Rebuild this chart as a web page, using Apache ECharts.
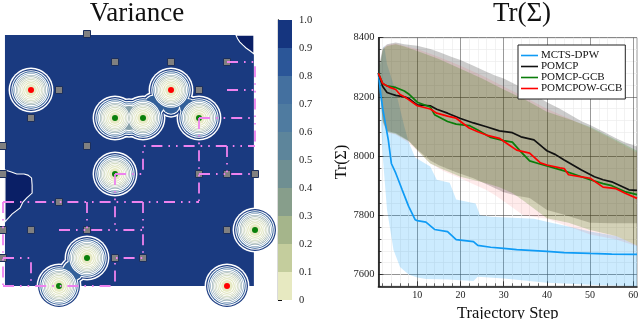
<!DOCTYPE html>
<html>
<head>
<meta charset="utf-8">
<style>html,body{margin:0;padding:0;background:#fff}#c{width:640px;height:319px}</style>
<script src="https://cdn.jsdelivr.net/npm/echarts@6/dist/echarts.min.js"></script>
</head>
<body>
<div id="c"></div>
<script>
// ---------- left map data (grid units) ----------
const fieldBounds = [0.07, 8.96, 0.04, 9];
const obstacles = [[3,0],[4,1],[6,1],[8,1],[2,2],[7,2],[1,3],[0,4],[3,4],[0,5],[7,5],[8,5],[9,5],[2,6],[0,7],[1,7],[3,7],[8,7],[0,8],[4,8],[5,8]];
const redGoals = [[1,2],[6,2],[8,9]];
const greenGoals = [[4,3],[5,3],[7,3],[4,5],[9,7],[3,8],[2,9]];
const saddleSpot = [4.5,3,19];
const neckSpots = [[5.4,2.55,13],[6.6,2.6,11],[6,2.55,11.5],[2.5,8.45,13]];
const darkPatchLeft = [[0.07,4.86],[0.3,4.93],[0.49,5.0],[0.75,5.0],[0.89,5.04],[1.02,5.14],[1.04,5.4],[1.04,5.68],[0.85,5.85],[0.71,6.0],[0.61,6.21],[0.32,6.43],[0.07,6.71]];
const darkPatchRight = [[8.32,0.04],[8.38,0.17],[8.46,0.29],[8.57,0.4],[8.68,0.5],[8.82,0.6],[8.96,0.71],[8.96,0.04]];
const pinkPaths = [
  [[4,5],[5,5],[5,4],[9,4]], [[8,1],[9,1],[9,4]], [[8,2],[9,2]], [[7,3],[9,3]],
  [[7,3],[7,6]], [[8,4],[8,5]], [[7,5],[9,5]], [[0,6],[7,6]], [[4,5],[4,7]],
  [[3,6],[3,7]], [[2,7],[5,7]], [[5,6],[5,8],[4,8],[4,9]], [[0,8],[1,8],[1,9]],
  [[0,9],[4,9]], [[0,6],[0,9]]
];
// ---------- colour bar ----------
const barTicks = [0,0.1,0.2,0.3,0.4,0.5,0.6,0.7,0.8,0.9,1];
const barColors = ['#e7e9c1','#c4cd9d','#a5b58b','#879e8b','#6f8f92','#5d859b','#4f7ba0','#44709f','#2b5698','#15357f'];
const ringRadii = [21.7,19.2,17.2,15.6,14.1,12.7,11.3,9.9,8.3,6.3];
const ringFills = ['#1b3c82','#33609a','#5f86a8','#86a0aa','#a3b6ae','#bcc9b4','#cdd6ba','#dadfbe','#e2e6c0','#e8eac4'];
const fieldColor = '#1a3a80', patchColor = '#0a1f66';
// ---------- right chart data ----------
const stepTicks = [10,20,30,40,50,60];
const stepMinor = [2,4,6,8,12,14,16,18,22,24,26,28,32,34,36,38,42,44,46,48,52,54,56,58];
const traceTicks = [7600,7800,8000,8200,8400];
const methodNames = ['MCTS-DPW','POMCP','POMCP-GCB','POMCPOW-GCB'];
const blueMean = [[1,8280],[1.5,8215],[2,8160],[3.3,8054],[4,7975],[5,7943],[6.5,7886],[8,7830],[9.5,7785],[10,7782],[12,7777],[14,7752],[17,7745],[19,7718],[23,7711],[24,7698],[27,7692],[30,7688],[33,7684],[40,7678],[44,7674],[50,7671],[55,7669],[60.85,7668]];
const blackMean = [[1,8280],[2,8235],[3,8215],[4,8210],[5,8205],[7,8200],[8,8195],[10,8173],[13,8170],[14.5,8158],[17,8145],[20,8127],[23,8112],[26,8099],[29,8085],[32,8079],[34,8065],[37,8055],[39,8030],[40,8018],[42,8005],[44,7987],[46,7970],[48,7953],[51,7930],[53,7920],[55,7913],[57,7900],[59,7886],[60.85,7884]];
const greenMean = [[1,8280],[2,8245],[3,8237],[5,8232],[7,8220],[8,8210],[10,8182],[13,8166],[14,8140],[17,8117],[19,8108],[22,8103],[24,8088],[27,8063],[30,8052],[32,8047],[34,8014],[36,7984],[38,7975],[40,7967],[44,7950],[47,7935],[50,7920],[53,7907],[55,7900],[58,7880],[60.85,7870]];
const redMean = [[1,8280],[2,8245],[3.5,8233],[5,8225],[6,8208],[7.5,8196],[10,8170],[13,8159],[14.5,8145],[17,8135],[19,8128],[22,8095],[24,8082],[26,8071],[29,8060],[31,8040],[33,8020],[36,8010],[38.5,7977],[40,7970],[43,7960],[44,7958],[45,7937],[48,7930],[50,7925],[53,7895],[56,7890],[58,7875],[60.85,7857]];
const blueUpper = [[1,8280],[2.3,8375],[3,8310],[4,8265],[5,8220],[6,8160],[7,8100],[8,8048],[9.5,7995],[13,7965],[14.5,7920],[17.5,7910],[19,7853],[23.5,7840],[24.5,7800],[27,7795],[37,7788],[40,7778],[45,7762],[50,7745],[56,7730],[60.85,7698]];
const blueLower = [[1,8280],[2,8000],[3,7818],[4.5,7683],[6,7625],[8,7600],[10,7590],[12,7585],[17,7583],[23,7578],[24,7592],[30,7586],[40,7572],[50,7565],[60.85,7560]];
const blackUpper = [[1,8280],[1.5,8330],[2,8365],[3,8378],[5,8384],[7,8378],[10,8373],[13,8362],[15,8352],[18,8335],[20,8325],[23,8305],[26,8285],[28,8272],[30,8262],[33,8240],[36,8214],[38,8200],[40,8182],[43,8160],[46,8135],[48,8118],[50,8105],[53,8083],[56,8060],[58,8047],[60.85,8032]];
const blackLower = [[1,8280],[2,8120],[3,8085],[5,8078],[8,8052],[10,8022],[13,7985],[15,7969],[19,7945],[23,7925],[26,7905],[30,7878],[33,7866],[36,7858],[38,7838],[40,7818],[44,7802],[50,7775],[55,7773],[60.85,7773]];
const greenUpper = [[1,8280],[2,8360],[3,8372],[5,8378],[7,8370],[10,8355],[15,8328],[20,8295],[25,8262],[30,8225],[35,8190],[40,8150],[45,8125],[50,8098],[55,8062],[60.85,8018]];
const greenLower = [[1,8280],[2,8115],[3,8082],[5,8075],[8,8050],[10,8020],[13,7975],[16,7955],[20,7930],[26,7908],[29,7895],[32,7875],[34.5,7850],[36.5,7828],[40,7790],[45,7775],[50,7750],[56,7730],[60.85,7698]];
const redUpper = [[1,8280],[2,8362],[3,8375],[5,8380],[7,8372],[10,8362],[15,8335],[20,8305],[25,8272],[30,8235],[35,8198],[40,8160],[45,8128],[50,8095],[55,8058],[60.85,8012]];
const redLower = [[1,8280],[2,8110],[3,8080],[5,8072],[8,8045],[10,8018],[13,7975],[16,7950],[20,7925],[23,7905],[26,7885],[28,7868],[30.5,7842],[34.5,7800],[40,7788],[45,7762],[50,7735],[56,7718],[60.85,7695]];
const methodColors = ['#0f9bf5','#111111','#0a7d0a','#ff0000'];
const bandColors = ['rgba(0,154,250,0.2)','rgba(0,0,0,0.2)','rgba(40,128,0,0.22)','rgba(255,0,0,0.08)'];

const serif = '"Liberation Serif", serif';
const series = [];

series.push({type:'custom',xAxisIndex:0,yAxisIndex:0,z:1,silent:true,clip:false,data:[fieldBounds],
  renderItem(p,api){
    const a=api.coord([api.value(0),api.value(2)]), b=api.coord([api.value(1),api.value(3)]);
    return {type:'rect',shape:{x:a[0],y:a[1],width:b[0]-a[0],height:b[1]-a[1]},style:{fill:fieldColor}};
  }});
[darkPatchLeft,darkPatchRight].forEach(poly=>{
  series.push({type:'custom',xAxisIndex:0,yAxisIndex:0,z:2,silent:true,clip:false,data:[[poly[0][0],poly[0][1]]],
    renderItem(p,api){
      return {type:'polygon',shape:{points:poly.map(q=>api.coord(q))},style:{fill:patchColor,stroke:'#ffffff',lineWidth:1.1}};
    }});
});
const centres = redGoals.concat(greenGoals);
ringRadii.forEach((r,k)=>{
  const sw = k===0?0.75:(k<4?0.55:0.42);
  const pts = (rad)=>{
    const out = centres.map(c=>({value:c,symbolSize:2*rad}));
    const extra = [];
    if(k<4) extra.push(saddleSpot);
    if(k<2) neckSpots.forEach(n=>extra.push(n));
    extra.forEach(n=>{
      const nr = n[2]-(21.7-r)*1.05+(rad-r);
      if(nr>0) out.push({value:[n[0],n[1]],symbolSize:2*nr});
    });
    return out;
  };
  series.push({type:'scatter',xAxisIndex:0,yAxisIndex:0,z:3+k*0.02,silent:true,clip:true,symbol:'circle',
    itemStyle:{color:'#ffffff',opacity:1},data:pts(r+sw)});
  series.push({type:'scatter',xAxisIndex:0,yAxisIndex:0,z:3.01+k*0.02,silent:true,clip:true,symbol:'circle',
    itemStyle:{color:ringFills[k],opacity:1},data:pts(r-sw)});
});
series.push({type:'scatter',xAxisIndex:0,yAxisIndex:0,z:4,silent:true,clip:false,symbol:'rect',symbolSize:7,
  itemStyle:{color:'#808080',borderColor:'#1c2f5c',borderWidth:1,opacity:1},data:obstacles});
series.push({type:'scatter',xAxisIndex:0,yAxisIndex:0,z:4.1,silent:true,clip:false,symbolSize:6,itemStyle:{color:'#ff0000',opacity:1},data:redGoals});
series.push({type:'scatter',xAxisIndex:0,yAxisIndex:0,z:4.1,silent:true,clip:false,symbolSize:6,itemStyle:{color:'#0a800a',opacity:1},data:greenGoals});
pinkPaths.forEach(path=>{
  series.push({type:'line',xAxisIndex:0,yAxisIndex:0,z:5,silent:true,clip:false,symbol:'none',data:path,
    lineStyle:{color:'#ee82ee',width:1.8,type:[11,6,1.6,6,1.6,6]}});
});
series.push({type:'custom',xAxisIndex:1,yAxisIndex:1,z:2,silent:true,
  data:barColors.map((c,i)=>[barTicks[i],barTicks[i+1]]),
  renderItem(p,api){
    const a=api.coord([0,api.value(1)]), b=api.coord([1,api.value(0)]);
    return {type:'rect',shape:{x:a[0],y:a[1],width:b[0]-a[0],height:b[1]-a[1]},style:{fill:barColors[p.dataIndex]}};
  }});
[[blueUpper,blueLower],[blackUpper,blackLower],[greenUpper,greenLower],[redUpper,redLower]].forEach((b,i)=>{
  series.push({type:'custom',xAxisIndex:3,yAxisIndex:3,z:2,silent:true,data:[[b[0][0][0],b[0][0][1]]],
    renderItem(p,api){
      const pts=b[0].concat(b[1].slice().reverse()).map(q=>api.coord(q));
      return {type:'polygon',shape:{points:pts},style:{fill:bandColors[i]}};
    }});
});
[blueMean,blackMean,greenMean,redMean].forEach((m,i)=>{
  series.push({type:'line',name:methodNames[i],xAxisIndex:3,yAxisIndex:3,z:3,symbol:'none',data:m,
    itemStyle:{color:methodColors[i]},lineStyle:{color:methodColors[i],width:1.7}});
});

const option = {
  animation:false,
  backgroundColor:'#fff',
  textStyle:{fontFamily:serif},
  title:[
    {text:'Variance',left:132,top:-5,textAlign:'center',textStyle:{fontFamily:serif,fontSize:27,fontWeight:'normal',color:'#111'}},
    {text:'Tr(Σ)',left:517,top:-5,textAlign:'center',textStyle:{fontFamily:serif,fontSize:27,fontWeight:'normal',color:'#111'}}
  ],
  legend:{data:methodNames,orient:'vertical',left:518,top:45,icon:'rect',itemWidth:17,itemHeight:1.6,itemGap:0,
    padding:[5,3,5,3],backgroundColor:'#fff',borderColor:'#222',borderWidth:1,borderRadius:0,
    textStyle:{fontFamily:serif,fontSize:11,color:'#111',lineHeight:10.8,padding:[0,0,0,-2]},z:10},
  grid:[
    {left:3,top:34,width:252,height:252,outerBoundsMode:'none'},
    {left:278,top:20,width:14,height:280,outerBoundsMode:'none'},
    {left:378.4,top:37.7,width:258.6,height:248.6,outerBoundsMode:'none',show:true,borderColor:'#9a9a9a',borderWidth:1,backgroundColor:'transparent'}
  ],
  xAxis:[
    {gridIndex:0,type:'value',min:0,max:9,show:false},
    {gridIndex:1,type:'value',min:0,max:1,show:false},
    {gridIndex:2,type:'value',position:'bottom',min:1,max:60.85,axisLabel:{show:false},axisLine:{show:false},
      axisTick:{show:true,customValues:stepMinor,inside:true,length:3,lineStyle:{color:'#222',width:0.7}},
      splitLine:{show:true,lineStyle:{color:'#ececec',width:0.7}}},
    {gridIndex:2,type:'value',position:'bottom',min:1,max:60.85,name:'Trajectory Step',nameLocation:'middle',nameGap:16,
      nameTextStyle:{fontFamily:serif,fontSize:16.5,color:'#111'},
      axisLine:{show:true,onZero:false,lineStyle:{color:'#111',width:1.6}},
      axisLabel:{customValues:stepTicks,fontFamily:serif,fontSize:10,color:'#222',margin:4,hideOverlap:false,formatter:v=>String(v)},
      axisTick:{customValues:stepTicks,inside:true,length:5,lineStyle:{color:'#222',width:0.8}},
      splitLine:{show:true,lineStyle:{color:'rgba(70,70,70,0.55)',width:1}}}
  ],
  yAxis:[
    {gridIndex:0,type:'value',min:0,max:9,inverse:true,show:false},
    {gridIndex:1,type:'value',min:0,max:1,interval:0.1,position:'right',splitLine:{show:false},
      axisLine:{show:true,lineStyle:{color:'#111',width:1.3}},axisTick:{show:true,length:4,lineStyle:{color:'#111'}},
      axisLabel:{fontFamily:serif,fontSize:10.5,color:'#222',margin:7,formatter:v=>v===0?'0':v.toFixed(1)}},
    {gridIndex:2,type:'value',position:'left',min:7560,max:8400,interval:40,axisLabel:{show:false},axisLine:{show:false},
      axisTick:{show:true,inside:true,length:3,lineStyle:{color:'#222',width:0.7}},
      splitLine:{show:true,lineStyle:{color:'#ececec',width:0.7}}},
    {gridIndex:2,type:'value',position:'left',min:7560,max:8400,name:'Tr(Σ)',nameLocation:'middle',nameGap:28,nameRotate:90,
      nameTextStyle:{fontFamily:serif,fontSize:16,color:'#111'},
      axisLine:{show:true,onZero:false,lineStyle:{color:'#111',width:1.6}},
      axisLabel:{customValues:traceTicks,fontFamily:serif,fontSize:10.5,color:'#222',margin:4,hideOverlap:false,formatter:v=>String(v)},
      axisTick:{customValues:traceTicks,inside:true,length:5,lineStyle:{color:'#222',width:0.8}},
      splitLine:{show:true,lineStyle:{color:'rgba(70,70,70,0.55)',width:1}}}
  ],
  series
};
echarts.init(document.getElementById('c'),null,{renderer:'canvas'}).setOption(option);
</script>
</body>
</html>
